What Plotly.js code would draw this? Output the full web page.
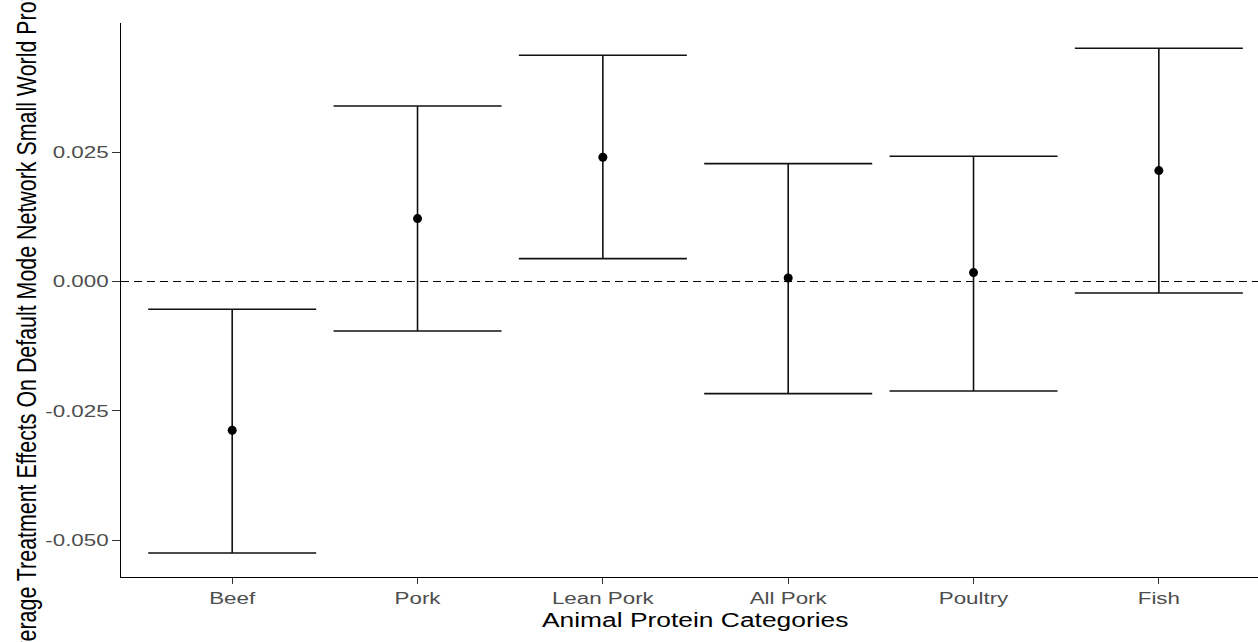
<!DOCTYPE html>
<html>
<head>
<meta charset="utf-8">
<script src="https://cdn.plot.ly/plotly-3.0.1.min.js"></script>
<style>
html, body { margin: 0; padding: 0; background: #fff; }
#chart { width: 1258px; height: 642px; }
</style>
</head>
<body>
<div id="chart"></div>
<script>
const categories = ["Beef", "Pork", "Lean Pork", "All Pork", "Poultry", "Fish"];
const estimates = [-0.02876, 0.01216, 0.02401, 0.00068, 0.00172, 0.02144];
const upper = [-0.00537, 0.03393, 0.04373, 0.02279, 0.02420, 0.04508];
const lower = [-0.05248, -0.00957, 0.00443, -0.02167, -0.02117, -0.00222];
const yTickVals = [-0.050, -0.025, 0.000, 0.025];
const yTickText = ["-0.050", "-0.025", "0.000", "0.025"];
const xTitle = "Animal Protein Categories";
const yTitle = "Average Treatment Effects On Default Mode Network Small World Propensity";

const xpos = categories.map((c, i) => i + 1);
const errPlus = upper.map((u, i) => u - estimates[i]);
const errMinus = lower.map((l, i) => estimates[i] - l);

const FONT = "Liberation Sans, Arial, Helvetica, sans-serif";

const trace = {
  type: "scatter",
  mode: "markers",
  x: xpos,
  y: estimates,
  marker: { color: "#000000", size: 9 },
  error_y: {
    type: "data",
    symmetric: false,
    array: errPlus,
    arrayminus: errMinus,
    color: "#111111",
    thickness: 1.6,
    width: 84
  },
  hoverinfo: "x+y",
  showlegend: false
};

const L = 121, R = 0, T = 23, B = 65;
const W = 1258, H = 642;
const plotW = W - L - R;

const layout = {
  width: W,
  height: H,
  margin: { l: L, r: R, t: T, b: B, pad: 0 },
  paper_bgcolor: "#ffffff",
  plot_bgcolor: "#ffffff",
  showlegend: false,
  font: { family: FONT, color: "#4D4D4D" },
  xaxis: {
    range: [0.4, 6.535],
    tickvals: xpos,
    ticktext: categories,
    showgrid: false,
    zeroline: false,
    showline: true,
    linecolor: "#000000",
    linewidth: 1.2,
    ticks: "outside",
    ticklen: 6,
    tickwidth: 1,
    tickcolor: "#333333",
    tickfont: { family: FONT, size: 16.2, color: "#4D4D4D" },
    fixedrange: true
  },
  yaxis: {
    range: [-0.05712, 0.04997],
    tickvals: yTickVals,
    ticktext: yTickText,
    showgrid: false,
    zeroline: false,
    showline: true,
    linecolor: "#000000",
    linewidth: 1.2,
    ticks: "outside",
    ticklen: 8,
    tickwidth: 1,
    tickcolor: "#333333",
    tickfont: { family: FONT, size: 16.2, color: "#4D4D4D" },
    fixedrange: true
  },
  shapes: [
    {
      type: "line",
      xref: "paper", x0: 0, x1: 1,
      yref: "y", y0: 0, y1: 0,
      line: { color: "#000000", width: 1.2, dash: "8px,5px" }
    }
  ],
  annotations: [
    {
      text: xTitle,
      xref: "paper", yref: "paper",
      x: (694.5 - L) / plotW, y: 0,
      xanchor: "center", yanchor: "top",
      yshift: -30,
      showarrow: false,
      font: { family: FONT, size: 20, color: "#000000" }
    },
    {
      text: yTitle,
      xref: "paper", yref: "paper",
      x: 0, y: 0.5,
      xanchor: "center", yanchor: "middle",
      xshift: 27 - L,
      textangle: -90,
      showarrow: false,
      font: { family: FONT, size: 21.4, color: "#000000" }
    }
  ]
};

// The reference renders its text horizontally wider than the font's natural shape.
const TICK_STRETCH = 1.38;
const TITLE_STRETCH = 1.32;

Plotly.newPlot("chart", [trace], layout, { displayModeBar: false }).then(function (gd) {
  gd.querySelectorAll(".xtick text, .ytick text").forEach(function (el) {
    const ax = parseFloat(el.getAttribute("x")) || 0;
    const t = el.getAttribute("transform") || "";
    el.setAttribute("transform", t + " translate(" + ax + ",0) scale(" + TICK_STRETCH + ",1) translate(" + (-ax) + ",0)");
  });
  gd.querySelectorAll(".annotation").forEach(function (ann) {
    const idx = parseInt(ann.getAttribute("data-index"), 10);
    const el = ann.querySelector("text.annotation-text");
    if (!el) return;
    const bb = el.getBBox();
    const t = el.getAttribute("transform") || "";
    if (idx === 0) {
      const cx = bb.x + bb.width / 2;
      el.setAttribute("transform", t + " translate(" + cx + ",0) scale(" + TITLE_STRETCH + ",1) translate(" + (-cx) + ",0)");
    } else if (idx === 1) {
      const cy = bb.y + bb.height / 2;
      el.setAttribute("transform", t + " translate(0," + cy + ") scale(1," + TITLE_STRETCH + ") translate(0," + (-cy) + ")");
    }
  });
});
</script>
</body>
</html>
